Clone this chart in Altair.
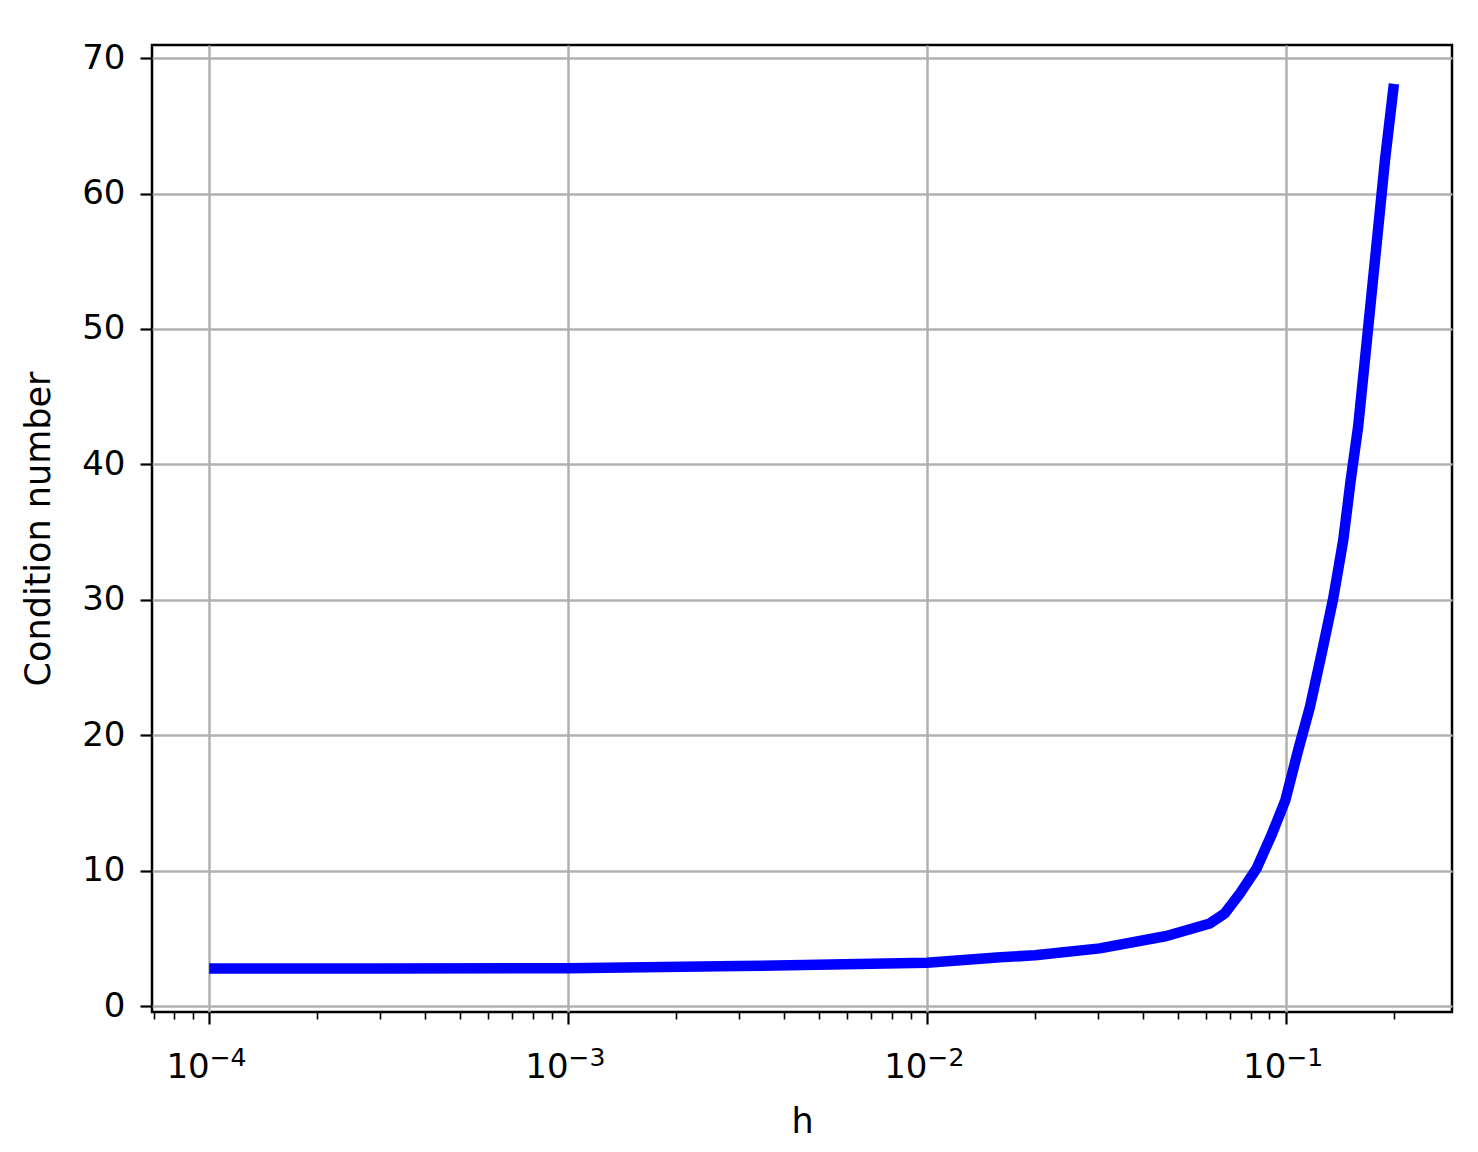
import altair as alt
import pandas as pd

# values
h_values = [1e-4, 3e-4, 1e-3, 3e-3, 0.01, 0.016, 0.02, 0.0303, 0.0465, 0.0614, 0.0676,
            0.0745, 0.0829, 0.0912, 0.0997, 0.1082, 0.1167, 0.1258, 0.1355, 0.1445,
            0.1516, 0.159, 0.1697, 0.179, 0.1889, 0.2]
cond_values = [2.78, 2.78, 2.79, 2.95, 3.2, 3.6, 3.75, 4.26, 5.17, 6.1, 6.85,
               8.32, 10.17, 12.63, 15.21, 18.9, 22.1, 26.05, 30.1, 34.4,
               38.85, 42.8, 50.2, 56.3, 62.5, 68.1]
major_x = [1e-4, 1e-3, 1e-2, 1e-1]
major_exponents = ["−4", "−3", "−2", "−1"]
minor_x = [m * 10.0 ** e for e in range(-5, 0) for m in range(2, 10)]
y_ticks = [0, 10, 20, 30, 40, 50, 60, 70]

x_domain = [6.93e-5, 0.2903]
y_domain = [-0.44, 70.97]
minor_x = [v for v in minor_x if x_domain[0] <= v <= x_domain[1]]

df = pd.DataFrame({"h": h_values, "cond": cond_values})
FONT = "DejaVu Sans"

exp_expr = "[" + ",".join("'\u2009%s'" % s for s in major_exponents) + "][round(log(datum.value)/LN10)+4]"

xscale = alt.Scale(type="log", domain=x_domain, nice=False, zero=False)
yscale = alt.Scale(domain=y_domain, nice=False, zero=False)

line = alt.Chart(df).mark_line(color="#0000ff", strokeWidth=10.5, strokeCap="butt",
                               strokeJoin="round", clip=True).encode(
    x=alt.X("h:Q", scale=xscale, title="h",
            axis=alt.Axis(values=major_x, labelExpr="'10'", grid=True, gridColor="#b0b0b0",
                          gridWidth=2.5, domain=False, tickColor="black", tickWidth=2.2,
                          tickSize=12, labelFont=FONT, labelFontSize=34, labelColor="black",
                          labelPadding=53, labelBaseline="alphabetic", labelAlign="right",
                          labelFlush=False, labelOverlap=False,
                          titleFont=FONT, titleFontSize=35, titleFontWeight="normal",
                          titleColor="black", titlePadding=20, orient="bottom")),
    y=alt.Y("cond:Q", scale=yscale, title="Condition number",
            axis=alt.Axis(values=y_ticks, grid=True, gridColor="#b0b0b0", gridWidth=2.5,
                          domain=False, tickColor="black", tickWidth=2.2, tickSize=12,
                          labelFont=FONT, labelFontSize=34, labelColor="black",
                          labelPadding=15, labelFlush=False, labelOverlap=False,
                          titleFont=FONT, titleFontSize=35, titleFontWeight="normal",
                          titleColor="black", titlePadding=25)),
)

exps = alt.Chart(pd.DataFrame({"e": major_x})).mark_point(opacity=0).encode(
    x=alt.X("e:Q", scale=xscale, title=None,
            axis=alt.Axis(values=major_x, labelExpr=exp_expr, ticks=False, tickSize=0,
                          grid=False, domain=False, labelFont=FONT, labelFontSize=25,
                          labelColor="black", labelPadding=53, labelBaseline="alphabetic",
                          labelAlign="left", labelFlush=False, labelOverlap=False,
                          orient="bottom", title=None)),
)

minor = alt.Chart(pd.DataFrame({"m": minor_x})).mark_point(opacity=0).encode(
    x=alt.X("m:Q", scale=xscale, title=None,
            axis=alt.Axis(values=minor_x, labels=False, grid=False, domain=False,
                          tickColor="black", tickWidth=1.6, tickSize=7, orient="bottom",
                          title=None)),
)

chart = alt.layer(minor, exps, line).resolve_axis(x="independent").properties(
    width=1300, height=967,
    background="white",
    autosize=alt.AutoSizeParams(type="none"),
    padding={"left": 144, "top": 37, "right": 18, "bottom": 130},
).configure_view(stroke="black", strokeWidth=2.5)

chart.save("out.html", embed_options={"renderer": "svg", "actions": False})
